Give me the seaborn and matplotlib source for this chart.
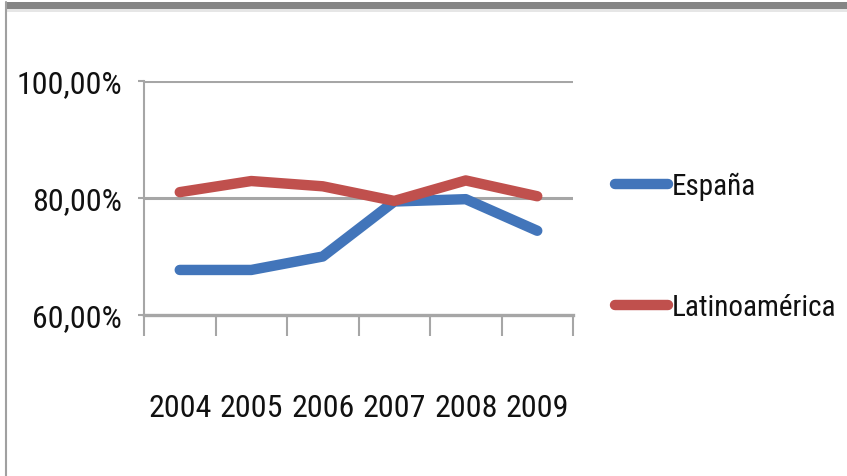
import matplotlib
matplotlib.use("Agg")
import matplotlib.pyplot as plt
import seaborn as sns
import pandas as pd
from matplotlib import font_manager
from matplotlib.ticker import FixedLocator, FuncFormatter
from matplotlib.lines import Line2D
from matplotlib.patches import Rectangle

years = ["2004", "2005", "2006", "2007", "2008", "2009"]
espana = [67.7, 67.7, 70.0, 79.4, 79.8, 74.4]
latinoamerica = [81.0, 82.9, 82.0, 79.5, 83.0, 80.3]
series_names = ["España", "Latinoamérica"]
y_ticks = [60, 80, 100]

sns.set_theme(style="white")

# prefer a narrow face if one is installed
installed = {f.name for f in font_manager.fontManager.ttflist}
narrow = [n for n in ["Liberation Sans Narrow", "Roboto Condensed", "DejaVu Sans Condensed",
                      "Open Sans Condensed", "Noto Sans Condensed"] if n in installed]
plt.rcParams["font.family"] = narrow + ["DejaVu Sans"]
plt.rcParams["font.stretch"] = "normal" if narrow else "condensed"

df = pd.DataFrame({
    "pos": list(range(len(years))) * 2,
    "valor": espana + latinoamerica,
    "serie": [series_names[0]] * len(years) + [series_names[1]] * len(years),
})

colors = {"España": "#4275BA", "Latinoamérica": "#C0504D"}
fs = 23
legend_fs = 21

fig = plt.figure(figsize=(8.47, 4.77), dpi=100)
ax = fig.add_axes([144 / 847, 161 / 477, (573 - 144) / 847, (316 - 82) / 477])

sns.lineplot(data=df, x="pos", y="valor", hue="serie", palette=colors,
             linewidth=7.5, ax=ax, legend=False, sort=False)

ax.set_xlim(-0.5, len(years) - 0.5)
ax.set_ylim(60, 100)
ax.set_xlabel("")
ax.set_ylabel("")

# gridlines
for v in y_ticks[1:]:
    ax.axhline(v, color="#A6A6A6", linewidth=2.2, zorder=0)

for s in ["top", "right"]:
    ax.spines[s].set_visible(False)
ax.spines["left"].set_color("#A6A6A6")
ax.spines["left"].set_linewidth(1.5)
ax.spines["bottom"].set_color("#A6A6A6")
ax.spines["bottom"].set_linewidth(2.4)

ax.xaxis.set_major_locator(FixedLocator(range(len(years))))
ax.set_xticklabels(years)
ax.xaxis.set_minor_locator(FixedLocator([i - 0.5 for i in range(len(years) + 1)]))
ax.tick_params(axis="x", which="major", length=0, pad=56, labelsize=fs, labelcolor="#111111")
ax.tick_params(axis="x", which="minor", length=15, width=1.5, color="#A6A6A6", bottom=True)

ax.yaxis.set_major_locator(FixedLocator(y_ticks))
ax.yaxis.set_major_formatter(FuncFormatter(lambda v, p: f"{v:.2f}".replace(".", ",") + "%"))
ax.tick_params(axis="y", which="major", length=4, width=1.5, color="#A6A6A6",
               left=True, pad=12, labelsize=fs, labelcolor="#111111")

handles = [Line2D([0], [0], color=colors[n], linewidth=7.5, solid_capstyle="round")
           for n in series_names]
fig.legend(handles, series_names, loc="upper left", bbox_to_anchor=(615 / 847, 1 - 173 / 477),
           frameon=False, fontsize=legend_fs, handlelength=1.8, handletextpad=0.15,
           labelspacing=3.17, borderpad=0, borderaxespad=0, labelcolor="#111111")

# outer chart frame: heavy top bar and thin left edge
fig.add_artist(Rectangle((5 / 847, 1 - 10 / 477), 1, 7 / 477, transform=fig.transFigure,
                         facecolor="#858585", edgecolor="none"))
fig.add_artist(Rectangle((5 / 847, 1 - 13 / 477), 1, 3 / 477, transform=fig.transFigure,
                         facecolor="#E6E6E6", edgecolor="none"))
fig.add_artist(Line2D([6 / 847, 6 / 847], [0, 1 - 3 / 477], transform=fig.transFigure,
                      color="#A0A0A0", linewidth=1.5))

fig.savefig("out.png", dpi=100)
